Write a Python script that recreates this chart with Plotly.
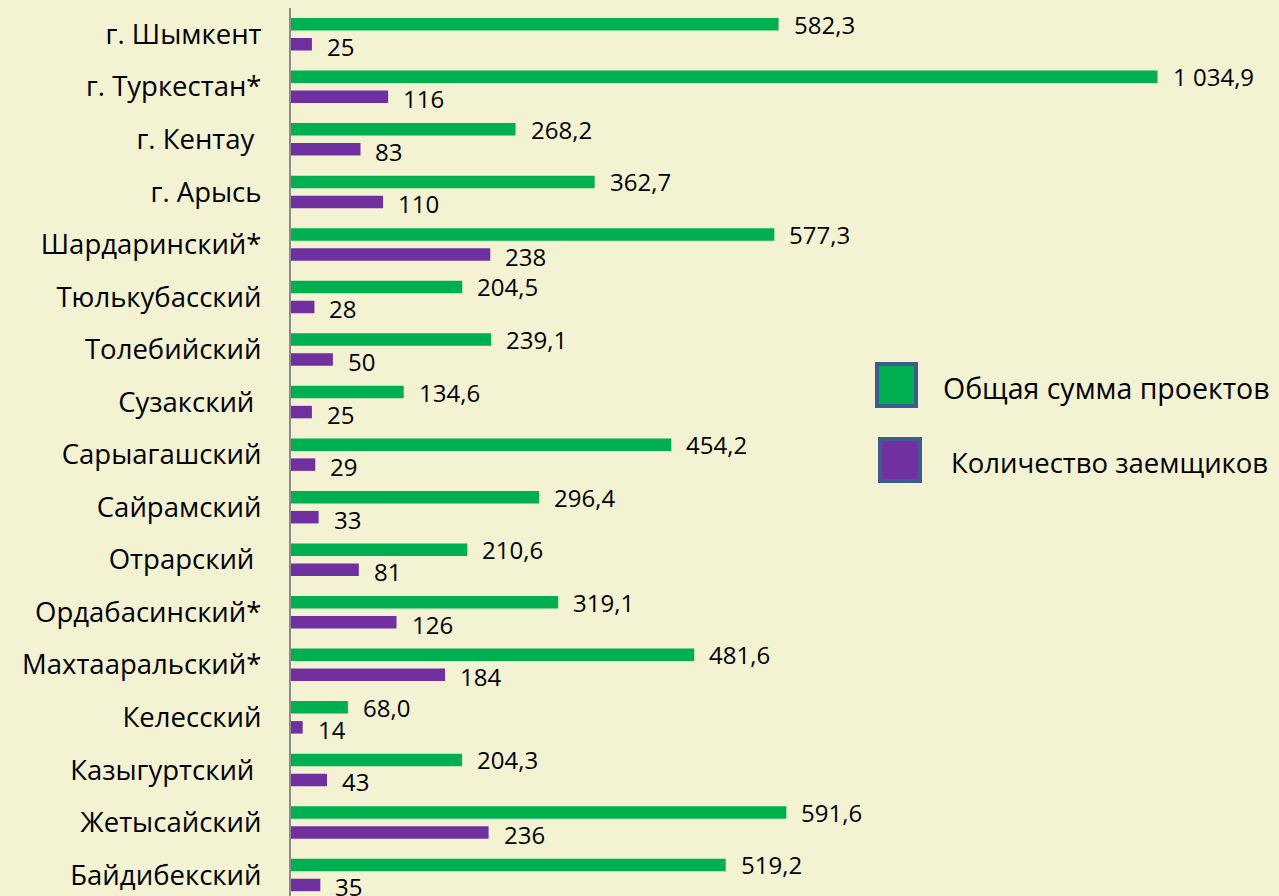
import plotly.graph_objects as go

categories = [
    "г. Шымкент", "г. Туркестан*", "г. Кентау\u00a0", "г. Арысь", "Шардаринский*",
    "Тюлькубасский", "Толебийский", "Сузакский\u00a0", "Сарыагашский", "Сайрамский",
    "Отрарский\u00a0", "Ордабасинский*", "Махтааральский*", "Келесский",
    "Казыгуртский\u00a0", "Жетысайский", "Байдибекский",
]
total_sum = [582.3, 1034.9, 268.2, 362.7, 577.3, 204.5, 239.1, 134.6, 454.2,
             296.4, 210.6, 319.1, 481.6, 68.0, 204.3, 591.6, 519.2]
borrowers = [25, 116, 83, 110, 238, 28, 50, 25, 29, 33, 81, 126, 184, 14, 43, 236, 35]
series_names = ["Общая сумма проектов", "Количество заемщиков"]

GREEN = "#00b050"
PURPLE = "#7030a0"
BORDER = "#3d5b8c"
BG = "#f3f2d3"
FONT = "'Open Sans', 'Noto Sans', sans-serif"

W, H = 1279, 896
ML, MR, MT, MB = 291, 0, 8, 0


def fmt_sum(v):
    s = f"{v:,.1f}"
    return s.replace(",", " ").replace(".", ",")


fig = go.Figure()
fig.add_trace(go.Bar(y=categories, x=total_sum, orientation="h", name=series_names[0],
                     marker=dict(color=GREEN, line=dict(width=0)), showlegend=False,
                     hoverinfo="skip"))
fig.add_trace(go.Bar(y=categories, x=borrowers, orientation="h", name=series_names[1],
                     marker=dict(color=PURPLE, line=dict(width=0)), showlegend=False,
                     hoverinfo="skip"))

annotations = []
for c, v in zip(categories, total_sum):
    annotations.append(dict(x=v, y=c, xref="x", yref="y", text=fmt_sum(v), showarrow=False,
                            xanchor="left", yanchor="middle", xshift=13, yshift=10,
                            font=dict(family=FONT, size=24, color="#000000")))
for c, v in zip(categories, borrowers):
    annotations.append(dict(x=v, y=c, xref="x", yref="y", text=str(v), showarrow=False,
                            xanchor="left", yanchor="middle", xshift=13, yshift=-12,
                            font=dict(family=FONT, size=24, color="#000000")))

pw = W - ML - MR
ph = H - MT - MB


def px(x):
    return (x - ML) / pw


def py(y):
    return 1 - (y - MT) / ph


shapes = [
    dict(type="rect", xref="paper", yref="paper", x0=px(877), x1=px(916), y0=py(406), y1=py(364),
         fillcolor=GREEN, line=dict(color=BORDER, width=4)),
    dict(type="rect", xref="paper", yref="paper", x0=px(880), x1=px(920), y0=py(481), y1=py(439),
         fillcolor=PURPLE, line=dict(color=BORDER, width=4)),
]
annotations.append(dict(x=px(941), y=py(388), xref="paper", yref="paper", text=series_names[0],
                        showarrow=False, xanchor="left", yanchor="middle",
                        font=dict(family=FONT, size=28.5, color="#000000")))
annotations.append(dict(x=px(949), y=py(462), xref="paper", yref="paper", text=series_names[1],
                        showarrow=False, xanchor="left", yanchor="middle",
                        font=dict(family=FONT, size=27.5, color="#000000")))

fig.update_layout(
    width=W, height=H,
    margin=dict(l=ML, r=MR, t=MT, b=MB, pad=0),
    paper_bgcolor=BG,
    plot_bgcolor="rgba(0,0,0,0)",
    barmode="group", bargap=0.239, bargroupgap=0.375,
    showlegend=False,
    hovermode=False,
    annotations=annotations,
    shapes=shapes,
    xaxis=dict(range=[0, 1180], showgrid=False, zeroline=False, showticklabels=False,
               showline=False),
    yaxis=dict(type="category", categoryorder="array", categoryarray=categories,
               range=[16.4, -0.5], showgrid=False, zeroline=False,
               showline=True, linecolor="#8c8c8c", linewidth=2,
               ticks="", ticklabelstandoff=22,
               tickfont=dict(family=FONT, size=27.5, color="#000000")),
)

fig.write_html(
    "out.html",
    config={"displayModeBar": False},
    post_script="document.body.style.margin='0px';document.body.style.background='" + BG + "';",
)
